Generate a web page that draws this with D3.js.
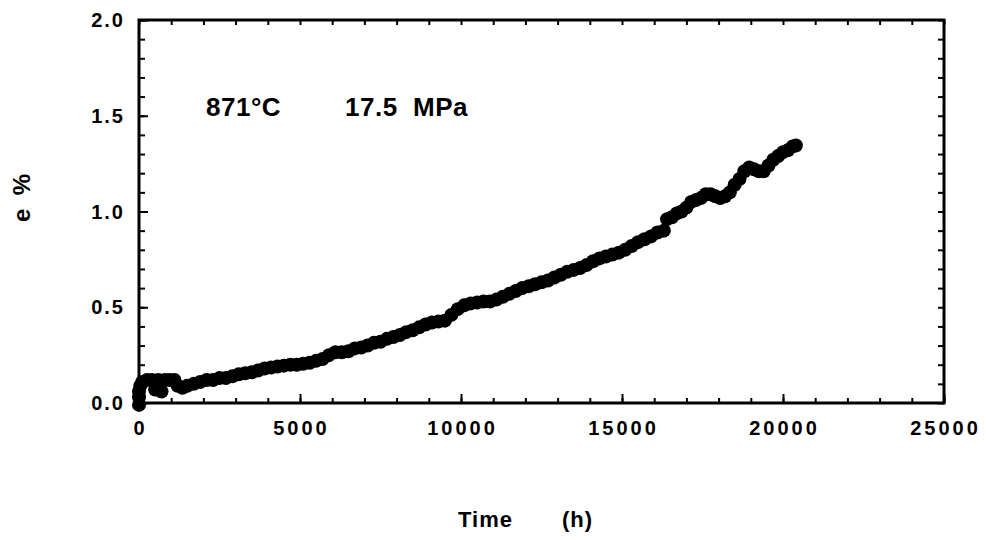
<!DOCTYPE html>
<html>
<head>
<meta charset="utf-8">
<script src="https://cdn.jsdelivr.net/npm/d3@7"></script>
<style>
  body { margin: 0; background: #fff; }
  svg text { font-family: "Liberation Sans", Arial, sans-serif; font-weight: bold; fill: #000; }
</style>
</head>
<body>
<svg id="chart" width="986" height="540"></svg>
<script>
// creep data: time (h) and strain (%)
const timeH = [
  0, 0, 0, 40, 100, 250, 400, 500, 600, 700, 800, 950, 1100, 1200, 1350, 1500,
  1700, 1900, 2100, 2300, 2500, 2700, 2900, 3100, 3300, 3500, 3700, 3900, 4100,
  4300, 4500, 4700, 4900, 5100, 5300, 5500, 5700, 5900, 6100, 6300, 6500, 6700,
  6900, 7100, 7300, 7500, 7700, 7900, 8100, 8300, 8500, 8700, 8900, 9100, 9300,
  9500, 9700, 9900, 10100, 10300, 10500, 10700, 10900, 11100, 11300, 11500,
  11700, 11900, 12100, 12300, 12500, 12700, 12900, 13100, 13300, 13500, 13700,
  13900, 14100, 14300, 14500, 14700, 14900, 15100, 15300, 15500, 15700, 15900,
  16100, 16300, 16400, 16550, 16700, 16850, 17000, 17150, 17300, 17450, 17600,
  17750, 17900, 18050, 18200, 18350, 18500, 18650, 18800, 18950, 19100, 19250,
  19400, 19550, 19700, 19850, 20000, 20150, 20300, 20400
];
const strainPct = [
  -0.01, 0.03, 0.06, 0.09, 0.11, 0.12, 0.12, 0.07, 0.12, 0.06, 0.12, 0.12, 0.12,
  0.09, 0.08, 0.09, 0.10, 0.11, 0.12, 0.12, 0.13, 0.13, 0.14, 0.15, 0.155, 0.16,
  0.17, 0.18, 0.185, 0.19, 0.195, 0.20, 0.20, 0.205, 0.21, 0.22, 0.23, 0.25,
  0.265, 0.265, 0.27, 0.285, 0.29, 0.30, 0.315, 0.32, 0.335, 0.345, 0.355, 0.37,
  0.38, 0.395, 0.41, 0.42, 0.425, 0.43, 0.46, 0.49, 0.51, 0.52, 0.525, 0.53,
  0.53, 0.54, 0.555, 0.57, 0.585, 0.60, 0.61, 0.62, 0.63, 0.64, 0.655, 0.67,
  0.685, 0.695, 0.705, 0.72, 0.74, 0.755, 0.765, 0.775, 0.785, 0.80, 0.82,
  0.84, 0.855, 0.87, 0.89, 0.90, 0.96, 0.97, 0.99, 1.00, 1.02, 1.05, 1.06,
  1.07, 1.09, 1.09, 1.08, 1.07, 1.08, 1.10, 1.14, 1.17, 1.21, 1.23, 1.22,
  1.21, 1.21, 1.24, 1.27, 1.29, 1.31, 1.32, 1.34, 1.345
];
const xTicks = [0, 5000, 10000, 15000, 20000, 25000];
const yTicks = [0.0, 0.5, 1.0, 1.5, 2.0];
const annotTemp = "871°C";
const annotStress = "17.5  MPa";

const points = timeH.map((t, i) => ({ t, e: strainPct[i] }));

const svg = d3.select("#chart");
const margin = { left: 139, right: 944, top: 20, bottom: 403 };
const width = margin.right - margin.left, height = margin.bottom - margin.top;

const x = d3.scaleLinear().domain([0, 25000]).range([0, width]);
const y = d3.scaleLinear().domain([0, 2]).range([height, 0]);

const g = svg.append("g").attr("transform", `translate(${margin.left},${margin.top})`);

// data dots - big overlapping markers make the thick band
g.append("g")
  .selectAll("circle")
  .data(points)
  .enter()
  .append("circle")
  .attr("cx", d => x(d.t))
  .attr("cy", d => y(d.e))
  .attr("r", 7)
  .attr("fill", "#000");

// inward ticks on all four sides, minor every 1000 h / 0.1 %
const xMinor = d3.range(0, 25001, 1000);
const yMinor = d3.range(0, 21).map(v => v / 10);

function styleAxis(sel) {
  sel.select(".domain").remove();
  sel.selectAll("line").attr("stroke", "#000").attr("stroke-width", 2);
}

g.append("g").attr("transform", `translate(0,${height})`)
  .call(d3.axisBottom(x).tickValues(xMinor).tickSize(-5).tickFormat(""))
  .call(styleAxis);
g.append("g").attr("transform", `translate(0,${height})`)
  .call(d3.axisBottom(x).tickValues(xTicks).tickSize(-9).tickFormat(""))
  .call(styleAxis);
g.append("g")
  .call(d3.axisTop(x).tickValues(xMinor).tickSize(-5).tickFormat(""))
  .call(styleAxis);
g.append("g")
  .call(d3.axisLeft(y).tickValues(yMinor).tickSize(-6).tickFormat(""))
  .call(styleAxis);
g.append("g")
  .call(d3.axisLeft(y).tickValues(yTicks).tickSize(-9).tickFormat(""))
  .call(styleAxis);
g.append("g").attr("transform", `translate(${width},0)`)
  .call(d3.axisRight(y).tickValues(yMinor).tickSize(-6).tickFormat(""))
  .call(styleAxis);

// frame
g.append("rect")
  .attr("width", width)
  .attr("height", height)
  .attr("fill", "none")
  .attr("stroke", "#000")
  .attr("stroke-width", 3);

// tick labels
g.append("g")
  .selectAll("text")
  .data(xTicks)
  .enter()
  .append("text")
  .attr("x", d => x(d) + 1.5)
  .attr("y", height + 32)
  .attr("text-anchor", "middle")
  .style("font-size", "20px")
  .style("letter-spacing", "3px")
  .text(d => d);

g.append("g")
  .selectAll("text")
  .data(yTicks)
  .enter()
  .append("text")
  .attr("x", -14)
  .attr("y", d => y(d) + 7)
  .attr("text-anchor", "end")
  .style("font-size", "20px")
  .style("letter-spacing", "2px")
  .text(d => d.toFixed(1));

// annotation
svg.append("text").attr("x", 206).attr("y", 116)
  .style("font-size", "26px").style("letter-spacing", "0.5px")
  .text(annotTemp);
svg.append("text").attr("x", 345).attr("y", 116)
  .style("font-size", "26px").style("letter-spacing", "0.5px")
  .style("white-space", "pre")
  .text(annotStress);

// axis titles
svg.append("text").attr("x", 458).attr("y", 527)
  .style("font-size", "22px").style("letter-spacing", "1px")
  .text("Time");
svg.append("text").attr("x", 562).attr("y", 527)
  .style("font-size", "22px").style("letter-spacing", "1px")
  .text("(h)");
svg.append("text")
  .attr("transform", "translate(30,198) rotate(-90)")
  .attr("text-anchor", "middle")
  .style("font-size", "24px")
  .style("white-space", "pre")
  .text("e  %");
</script>
</body>
</html>
